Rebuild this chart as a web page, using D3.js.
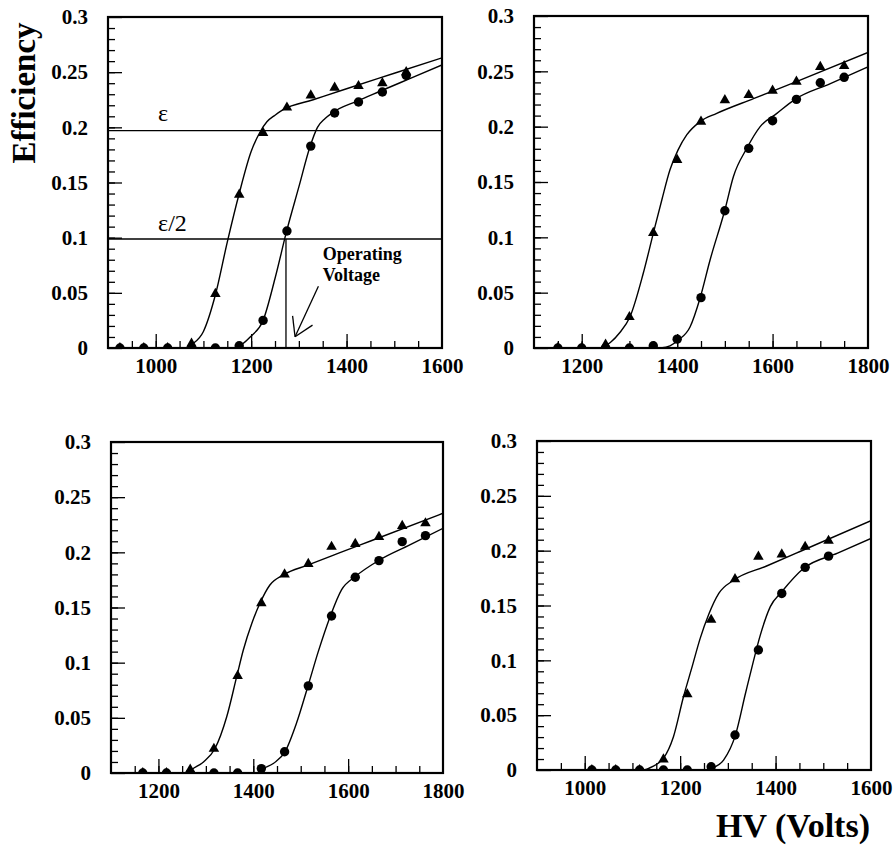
<!DOCTYPE html>
<html lang="en">
<head>
<meta charset="utf-8">
<title>Efficiency vs HV</title>
<script src="https://cdn.jsdelivr.net/npm/d3@7"></script>
<style>
  body { margin: 0; background: #fff; }
  text { font-family: "Liberation Serif", "Times New Roman", serif; }
</style>
</head>
<body>
<script>
// measured points, one HV list per panel (triangles and circles share it)
var hv1  = [925, 975, 1025, 1075, 1125, 1175, 1225, 1275, 1325, 1375, 1425, 1475, 1525];
var tri1 = [0, 0, 0, 0.004, 0.049, 0.139, 0.195, 0.218, 0.229, 0.236, 0.2375, 0.240, 0.250];
var cir1 = [0, 0, 0, 0, 0, 0.002, 0.025, 0.106, 0.183, 0.213, 0.223, 0.232, 0.247];

var hv2  = [1150, 1200, 1250, 1300, 1350, 1400, 1450, 1500, 1550, 1600, 1650, 1700, 1750];
var tri2 = [0, 0, 0.003, 0.028, 0.104, 0.170, 0.2045, 0.224, 0.2286, 0.2325, 0.2407, 0.254, 0.2548];
var cir2 = [0, 0, 0, 0, 0.002, 0.008, 0.0455, 0.124, 0.1804, 0.2054, 0.2247, 0.2397, 0.2446];

var hv3  = [1167, 1217, 1267, 1317, 1367, 1417, 1466, 1516, 1565, 1615, 1665, 1714, 1763];
var tri3 = [0, 0, 0.003, 0.022, 0.088, 0.154, 0.180, 0.1895, 0.205, 0.2076, 0.214, 0.224, 0.2264];
var cir3 = [0, 0, 0, 0, 0, 0.004, 0.0193, 0.079, 0.1423, 0.1774, 0.1925, 0.2097, 0.2151];

var hv4  = [1015, 1065, 1115, 1165, 1215, 1265, 1315, 1364, 1413, 1462, 1511];
var tri4 = [0, 0, 0, 0.0097, 0.069, 0.137, 0.174, 0.1945, 0.1966, 0.2036, 0.209];
var cir4 = [0, 0, 0, 0, 0, 0.003, 0.0319, 0.1094, 0.161, 0.1848, 0.195];

var fitTri1 = [[1065,0],[1075,0.003],[1100,0.015],[1125,0.048],[1150,0.096],[1175,0.14],[1200,0.178],[1219,0.196],[1233,0.205],[1250,0.211],[1267,0.216],[1330,0.225],[1400,0.235],[1500,0.249],[1600,0.263]];
var fitCir1 = [[1170,0],[1180,0.003],[1198,0.010],[1225,0.025],[1250,0.063],[1275,0.107],[1300,0.146],[1323,0.182],[1339,0.2],[1355,0.208],[1372,0.2137],[1421,0.2236],[1470,0.2327],[1530,0.2437],[1600,0.2565]];
var fitTri2 = [[1240,0],[1260,0.005],[1280,0.014],[1301,0.028],[1329,0.0675],[1350,0.1036],[1368,0.134],[1385,0.161],[1402,0.179],[1420,0.1925],[1448,0.2045],[1483,0.212],[1560,0.2253],[1650,0.2407],[1800,0.267]];
var fitCir2 = [[1365,0],[1385,0.002],[1402,0.007],[1427,0.019],[1448,0.045],[1469,0.0795],[1500,0.1247],[1518,0.155],[1546,0.1804],[1574,0.2],[1609,0.212],[1647,0.2247],[1720,0.2387],[1800,0.254]];
var fitTri3 = [[1262,0],[1270,0.003],[1295,0.010],[1319,0.022],[1344,0.051],[1365,0.0873],[1379,0.1115],[1397,0.1357],[1414,0.1538],[1435,0.1704],[1463,0.1795],[1516,0.1886],[1580,0.1992],[1650,0.2107],[1800,0.2354]];
var fitCir3 = [[1410,0],[1418,0.003],[1443,0.0088],[1467,0.0193],[1491,0.045],[1516,0.0798],[1537,0.11],[1562,0.1417],[1586,0.166],[1615,0.178],[1664,0.1925],[1730,0.2067],[1800,0.2218]];
var fitTri4 = [[1125,0],[1134,0.0015],[1150,0.005],[1165,0.0107],[1186,0.0304],[1207,0.0668],[1225,0.094],[1242,0.12],[1260,0.142],[1281,0.161],[1312,0.173],[1380,0.1858],[1450,0.199],[1600,0.2273]];
var fitCir4 = [[1260,0],[1267,0.0015],[1291,0.009],[1316,0.032],[1337,0.07],[1354,0.1],[1368,0.123],[1389,0.149],[1413,0.1625],[1459,0.1839],[1530,0.1977],[1600,0.2112]];

var yTickLabels = [0, 0.05, 0.1, 0.15, 0.2, 0.25, 0.3];

// annotation values for the first panel
var epsLevel = 0.197, halfEpsLevel = 0.0988, operatingHV = 1273;
var arrowTail = [1341, 0.056], arrowTip = [1292, 0.0102];

var serif = "'Liberation Serif', 'Times New Roman', Times, serif";
var w = 895, h = 845;
var svg = d3.select("body").append("svg").attr("width", w).attr("height", h)
  .attr("font-family", serif);

var panels = [
  {hv: hv1, tri: tri1, cir: cir1, ft: fitTri1, fc: fitCir1, dom: [900, 1600],  l: 108, r: 442, t: 17,  b: 348},
  {hv: hv2, tri: tri2, cir: cir2, ft: fitTri2, fc: fitCir2, dom: [1100, 1800], l: 534, r: 868, t: 16,  b: 348},
  {hv: hv3, tri: tri3, cir: cir3, ft: fitTri3, fc: fitCir3, dom: [1100, 1800], l: 111, r: 443, t: 442, b: 773},
  {hv: hv4, tri: tri4, cir: cir4, ft: fitTri4, fc: fitCir4, dom: [900, 1600],  l: 537, r: 871, t: 441, b: 770}
];

var fmt = d3.format(".2~f");

function styleAxis(a) {
  a.attr("font-family", serif).attr("font-size", 21).attr("font-weight", "bold");
  a.select(".domain").remove();
  a.selectAll("line").attr("stroke-width", 1.3);
  a.selectAll("text").attr("fill", "#000");
}

panels.forEach(function(p, i) {
  var x = d3.scaleLinear().domain(p.dom).range([p.l, p.r]);
  var y = d3.scaleLinear().domain([0, 0.3]).range([p.b, p.t]);
  p.x = x; p.y = y;

  var g = svg.append("g");
  g.append("clipPath").attr("id", "clip" + i)
    .append("rect").attr("x", p.l).attr("y", p.t).attr("width", p.r - p.l).attr("height", p.b - p.t);

  // y axis, minor + major ticks pointing inside
  var minorY = d3.range(1, 30).map(function(k) { return k / 100; });
  g.append("g").attr("transform", "translate(" + p.l + ",0)")
    .call(d3.axisLeft(y).tickValues(minorY).tickSize(-7).tickFormat(""))
    .call(styleAxis);
  g.append("g").attr("transform", "translate(" + p.l + ",0)")
    .call(d3.axisLeft(y).tickValues(yTickLabels).tickSize(-14).tickPadding(20).tickFormat(fmt))
    .call(styleAxis);

  // x axis
  var minorX = d3.range(p.dom[0] + 50, p.dom[1], 50);
  var majorX = d3.range(Math.ceil(p.dom[0] / 200) * 200, p.dom[1] + 1, 200);
  g.append("g").attr("transform", "translate(0," + p.b + ")")
    .call(d3.axisBottom(x).tickValues(minorX).tickSize(-7).tickFormat(""))
    .call(styleAxis);
  g.append("g").attr("transform", "translate(0," + p.b + ")")
    .call(d3.axisBottom(x).tickValues(majorX).tickSize(-14).tickPadding(10).tickFormat(d3.format("d")))
    .call(styleAxis)
    .call(function(a) {
      a.selectAll("line").attr("y2", function(d) { return d >= p.dom[1] ? 0 : -14; });
    });

  var plot = g.append("g").attr("clip-path", "url(#clip" + i + ")");
  var line = d3.line().x(function(d) { return x(d[0]); }).y(function(d) { return y(d[1]); })
    .curve(d3.curveMonotoneX);
  [p.ft, p.fc].forEach(function(f) {
    plot.append("path").attr("d", line(f)).attr("fill", "none").attr("stroke", "#000").attr("stroke-width", 1.4);
  });

  plot.selectAll(".cir").data(p.hv).enter().append("circle")
    .attr("cx", function(d) { return x(d); })
    .attr("cy", function(d, k) { return y(p.cir[k]); })
    .attr("r", 4.7).attr("fill", "#000");
  var tri = d3.symbol().type(d3.symbolTriangle).size(48);
  plot.selectAll(".tri").data(p.hv).enter().append("path")
    .attr("d", tri)
    .attr("transform", function(d, k) { return "translate(" + x(d) + "," + y(p.tri[k]) + ")"; })
    .attr("fill", "#000");

  g.append("rect").attr("x", p.l).attr("y", p.t).attr("width", p.r - p.l).attr("height", p.b - p.t)
    .attr("fill", "none").attr("stroke", "#000").attr("stroke-width", 2.2);
});

// annotations on the first panel
var p1 = panels[0];
var ann = svg.append("g").attr("stroke", "#000").attr("stroke-width", 1.3);
ann.append("line").attr("x1", p1.l).attr("x2", p1.r).attr("y1", p1.y(epsLevel)).attr("y2", p1.y(epsLevel));
ann.append("line").attr("x1", p1.l).attr("x2", p1.r).attr("y1", p1.y(halfEpsLevel)).attr("y2", p1.y(halfEpsLevel));
ann.append("line").attr("x1", p1.x(operatingHV)).attr("x2", p1.x(operatingHV))
  .attr("y1", p1.y(halfEpsLevel)).attr("y2", p1.y(0));

var tx = p1.x(arrowTail[0]), ty = p1.y(arrowTail[1]);
var hx = p1.x(arrowTip[0]), hy = p1.y(arrowTip[1]);
ann.append("line").attr("x1", tx).attr("y1", ty).attr("x2", hx).attr("y2", hy);
var ang = Math.atan2(ty - hy, tx - hx);
[-0.55, 0.55].forEach(function(da) {
  ann.append("line").attr("x1", hx).attr("y1", hy)
    .attr("x2", hx + 21 * Math.cos(ang + da)).attr("y2", hy + 21 * Math.sin(ang + da));
});

svg.append("text").attr("x", p1.x(1005)).attr("y", p1.y(0.2055))
  .attr("font-size", 24).text("ε");
svg.append("text").attr("x", p1.x(1005)).attr("y", p1.y(0.106))
  .attr("font-size", 24).text("ε/2");
var op = svg.append("text").attr("font-size", 18).attr("font-weight", "bold");
op.append("tspan").attr("x", p1.x(1350)).attr("y", p1.y(0.0795)).text("Operating");
op.append("tspan").attr("x", p1.x(1350)).attr("y", p1.y(0.0605)).text("Voltage");

// axis titles
svg.append("text").attr("transform", "translate(35,93) rotate(-90)")
  .attr("text-anchor", "middle").attr("font-size", 33).attr("font-weight", "bold").text("Efficiency");
svg.append("text").attr("x", 870).attr("y", 837)
  .attr("text-anchor", "end").attr("font-size", 34).attr("font-weight", "bold").text("HV (Volts)");
</script>
</body>
</html>
